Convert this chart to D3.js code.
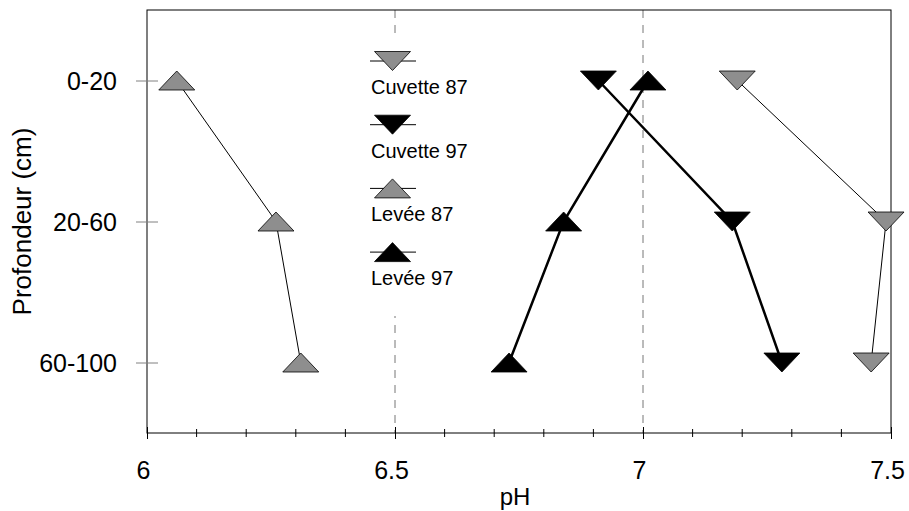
<!DOCTYPE html>
<html>
<head>
<meta charset="utf-8">
<script src="https://cdn.jsdelivr.net/npm/d3@7"></script>
<style>
  body { margin: 0; background: #fff; }
  text { font-family: "Liberation Sans", Arial, sans-serif; }
</style>
</head>
<body>
<svg id="chart"></svg>
<script>
// profondeurs (catégories de l'axe y)
const depths = ['0-20', '20-60', '60-100'];

// pH par profondeur
const cuvette87 = [7.19, 7.49, 7.46];
const cuvette97 = [6.91, 7.18, 7.28];
const levee87 = [6.06, 6.26, 6.31];
const levee97 = [7.01, 6.84, 6.73];

const seriesNames = ['Cuvette 87', 'Cuvette 97', 'Levée 87', 'Levée 97'];
const xTicks = [6, 6.5, 7, 7.5];
const xMinorTicks = [6.1, 6.2, 6.3, 6.4, 6.6, 6.7, 6.8, 6.9, 7.1, 7.2, 7.3, 7.4];
const refLines = [6.5, 7];

class ProfileChart {
    constructor (config) {
        this.config = {
            parent: config.parent,
            width: config.width || 909,
            height: config.height || 511,
            margin: config.margin || {top: 10, right: 18, bottom: 78, left: 147}
        };
        this.init();
    }

    init() {
        let self = this;
        const m = self.config.margin;

        self.svg = d3.select(self.config.parent)
            .attr('width', self.config.width)
            .attr('height', self.config.height);

        self.inner_width = self.config.width - m.left - m.right;
        self.inner_height = self.config.height - m.top - m.bottom;

        self.chart = self.svg.append('g')
            .attr('transform', `translate(${m.left}, ${m.top})`);

        self.xscale = d3.scaleLinear()
            .domain([6, 7.5])
            .range([0, self.inner_width]);

        self.yscale = d3.scalePoint()
            .domain(depths)
            .range([0, self.inner_height])
            .padding(0.5);

        // triangles : largeur 36, hauteur 19
        self.up = 'M0,-9.5L18,9.5L-18,9.5Z';
        self.down = 'M0,9.5L18,-9.5L-18,-9.5Z';

        self.series = [
            {name: seriesNames[0], values: cuvette87, shape: self.down, fill: '#8e8e8e', width: 1},
            {name: seriesNames[1], values: cuvette97, shape: self.down, fill: '#000', width: 2.5},
            {name: seriesNames[2], values: levee87, shape: self.up, fill: '#8e8e8e', width: 1},
            {name: seriesNames[3], values: levee97, shape: self.up, fill: '#000', width: 2.5}
        ];
    }

    render() {
        let self = this;
        const m = self.config.margin;

        //lignes de référence
        self.chart.selectAll('.ref')
            .data(refLines)
            .join('line')
            .attr('x1', d => self.xscale(d))
            .attr('x2', d => self.xscale(d))
            .attr('y1', 0)
            .attr('y2', self.inner_height)
            .attr('stroke', '#777')
            .attr('stroke-width', 1)
            .attr('stroke-dasharray', '8,7');

        //cadre
        self.chart.append('rect')
            .attr('width', self.inner_width)
            .attr('height', self.inner_height)
            .attr('fill', 'none')
            .attr('stroke', '#000')
            .attr('stroke-width', 1);

        //axe x
        const xaxis_group = self.chart.append('g')
            .attr('transform', `translate(0, ${self.inner_height})`);
        xaxis_group.call(d3.axisBottom(self.xscale).tickValues(xTicks).tickFormat(d3.format('')).tickSize(6));
        xaxis_group.select('.domain').remove();
        xaxis_group.selectAll('.tick line').attr('y1', -6).attr('y2', 6).attr('stroke', '#000');
        xaxis_group.selectAll('.tick text')
            .attr('x', -4)
            .attr('y', 46)
            .attr('dy', 0)
            .style('font-size', '25px')
            .attr('fill', '#000');
        xaxis_group.selectAll('.minor')
            .data(xMinorTicks)
            .join('line')
            .attr('x1', d => self.xscale(d))
            .attr('x2', d => self.xscale(d))
            .attr('y1', -4)
            .attr('y2', 4)
            .attr('stroke', '#000');

        //axe y
        const yaxis_group = self.chart.append('g');
        yaxis_group.call(d3.axisLeft(self.yscale).tickSize(11));
        yaxis_group.select('.domain').remove();
        yaxis_group.selectAll('.tick line').attr('x1', -11).attr('x2', 11).attr('stroke', '#808080');
        yaxis_group.selectAll('.tick text')
            .attr('x', -30)
            .attr('dy', '0.35em')
            .style('font-size', '25px')
            .attr('fill', '#000');

        //lignes et symboles
        const line = d3.line()
            .x(d => self.xscale(d[1]))
            .y(d => self.yscale(d[0]));

        self.series.forEach(s => {
            const pts = depths.map((d, i) => [d, s.values[i]]);
            self.chart.append('path')
                .datum(pts)
                .attr('d', line)
                .attr('fill', 'none')
                .attr('stroke', '#000')
                .attr('stroke-width', s.width);
        });
        self.series.forEach(s => {
            self.chart.selectAll(null)
                .data(depths.map((d, i) => [d, s.values[i]]))
                .join('path')
                .attr('transform', d => `translate(${self.xscale(d[1])}, ${self.yscale(d[0])})`)
                .attr('d', s.shape)
                .attr('fill', s.fill)
                .attr('stroke', '#000')
                .attr('stroke-width', 0.8);
        });

        //légende
        const legend = self.svg.append('g');
        legend.append('rect')
            .attr('x', 362)
            .attr('y', 34)
            .attr('width', 110)
            .attr('height', 282)
            .attr('fill', '#fff');
        self.series.forEach((s, i) => {
            const ly = 61 + i * 63.7;
            legend.append('line')
                .attr('x1', 370)
                .attr('x2', 416)
                .attr('y1', ly)
                .attr('y2', ly)
                .attr('stroke', '#000')
                .attr('stroke-width', 1);
            legend.append('path')
                .attr('transform', `translate(392.5, ${ly})`)
                .attr('d', s.shape)
                .attr('fill', s.fill)
                .attr('stroke', '#000')
                .attr('stroke-width', 0.8);
            legend.append('text')
                .attr('x', 371)
                .attr('y', ly + 33)
                .style('font-size', '20px')
                .text(s.name);
        });

        //titres des axes
        self.svg.append('text')
            .attr('x', m.left + self.inner_width / 2 - 4)
            .attr('y', 505)
            .attr('text-anchor', 'middle')
            .style('font-size', '24px')
            .text('pH');

        self.svg.append('text')
            .attr('transform', `translate(31, ${m.top + self.inner_height / 2}) rotate(-90)`)
            .attr('text-anchor', 'middle')
            .style('font-size', '26px')
            .text('Profondeur (cm)');
    }
}

const chart = new ProfileChart({parent: '#chart'});
chart.render();
</script>
</body>
</html>
